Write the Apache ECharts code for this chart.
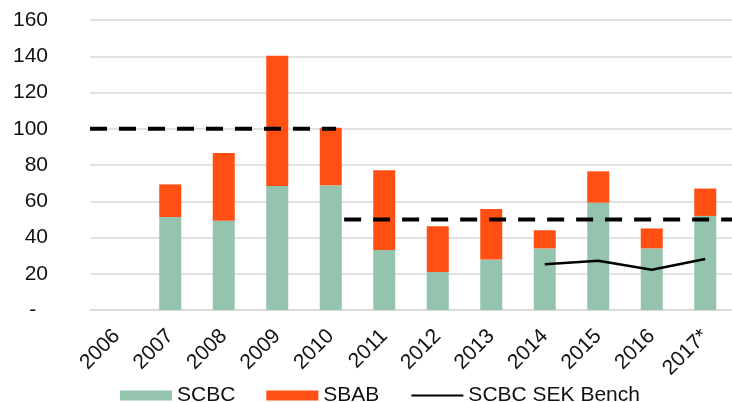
<!DOCTYPE html>
<html>
<head>
<meta charset="utf-8">
<script src="https://cdn.jsdelivr.net/npm/echarts@6/dist/echarts.min.js"></script>
<style>
  html, body { margin: 0; padding: 0; background: #fff; }
  #chart { width: 732px; height: 402px; }
</style>
</head>
<body>
<div id="chart"></div>
<script>
// Issuance volumes per year
const years = ['2006', '2007', '2008', '2009', '2010', '2011', '2012', '2013', '2014', '2015', '2016', '2017*'];
const scbc  = [0, 51.3, 49.3, 68.4, 68.8, 33.1, 21.0, 27.8, 34.0, 59.2, 34.0, 51.9];
const sbab  = [0, 18.0, 37.3, 71.9, 31.8, 44.0, 25.2, 27.9, 10.0, 17.3, 11.0, 15.1];
const bench = ['-', '-', '-', '-', '-', '-', '-', '-', 25.2, 27.2, 22.2, 28.1];

// Target levels: [position along the category span, level]
const targetHigh = [[0, 100], [4.6, 100]];
const targetLow  = [[4.75, 50], [12, 50]];

const yTicks = { min: 0, max: 160, step: 20 };

const FONT = 'Liberation Sans, Arial, sans-serif';
const TEXT = '#111111';
const GREEN = '#95C4AE';
const ORANGE = '#FF4F12';

const chart = echarts.init(document.getElementById('chart'), null, { renderer: 'canvas' });

chart.setOption({
  animation: false,
  backgroundColor: '#ffffff',
  grid: { left: 90, right: 0, top: 20, bottom: 92, containLabel: false },
  legend: {
    data: [
      { name: 'SCBC', icon: 'rect' },
      { name: 'SBAB', icon: 'rect' },
      { name: 'SCBC SEK Bench', itemStyle: { opacity: 0 } }
    ],
    left: 120,
    top: 385,
    padding: 0,
    itemWidth: 52,
    itemHeight: 10,
    itemGap: 31,
    textStyle: { fontFamily: FONT, fontSize: 21, color: TEXT },
    selectedMode: false
  },
  xAxis: [
    {
      type: 'category',
      data: years,
      axisTick: { show: false },
      axisLine: { lineStyle: { color: '#D9D9D9', width: 1.5 } },
      axisLabel: {
        interval: 0,
        rotate: 45,
        margin: 23,
        fontFamily: FONT,
        fontSize: 21,
        color: TEXT
      }
    },
    {
      type: 'value',
      min: 0,
      max: 12,
      show: false
    }
  ],
  yAxis: {
    type: 'value',
    min: yTicks.min,
    max: yTicks.max,
    interval: yTicks.step,
    axisLine: { show: false },
    axisTick: { show: false },
    splitLine: { lineStyle: { color: '#D9D9D9', width: 1.5 } },
    axisLabel: {
      margin: 42,
      fontFamily: FONT,
      fontSize: 21,
      color: TEXT,
      formatter: v => (v === 0 ? '-  ' : String(v))
    }
  },
  series: [
    {
      name: 'SCBC',
      type: 'bar',
      stack: 'total',
      data: scbc,
      barWidth: 22,
      itemStyle: { color: GREEN }
    },
    {
      name: 'SBAB',
      type: 'bar',
      stack: 'total',
      data: sbab,
      barWidth: 22,
      itemStyle: { color: ORANGE }
    },
    {
      name: 'SCBC SEK Bench',
      type: 'line',
      data: bench,
      symbol: 'none',
      lineStyle: { color: '#000', width: 2.5 },
      itemStyle: { color: '#000' },
      z: 5
    },
    {
      name: 'targetHigh',
      type: 'line',
      xAxisIndex: 1,
      data: targetHigh,
      symbol: 'none',
      lineStyle: { color: '#000', width: 4, type: [17, 12] },
      z: 4
    },
    {
      name: 'targetLow',
      type: 'line',
      xAxisIndex: 1,
      data: targetLow,
      symbol: 'none',
      lineStyle: { color: '#000', width: 4, type: [17, 12] },
      z: 4
    }
  ]
});
</script>
</body>
</html>
